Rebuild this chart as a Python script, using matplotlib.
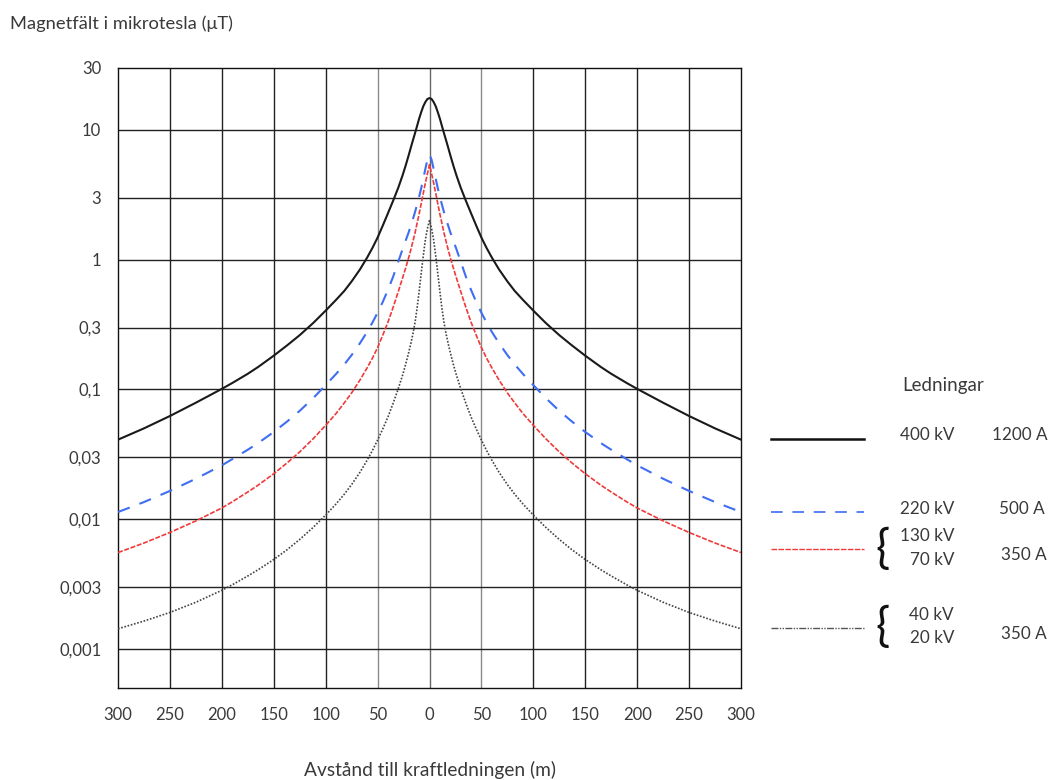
import numpy as np
import matplotlib.pyplot as plt
from matplotlib.lines import Line2D

plt.rcParams['font.family'] = ['Lato', 'DejaVu Sans']

# distance from the line (m), the curves are symmetric around 0
dist = [0, 2, 4, 6, 8, 10, 12, 14, 16, 18, 20, 23, 26, 30, 35, 40, 45, 50, 55, 60, 67, 75, 82,
        90, 100, 112, 125, 137, 150, 165, 175, 190, 200, 225, 250, 275, 300]

# magnetic field in microtesla
b_400 = [17.6, 17.3, 16.4, 15.2, 13.7, 12.2, 10.7, 9.4, 8.3, 7.3, 6.4, 5.3, 4.45, 3.6, 2.85, 2.28,
         1.83, 1.48, 1.23, 1.04, 0.84, 0.68, 0.575, 0.49, 0.405, 0.325, 0.262, 0.219, 0.182,
         0.149, 0.132, 0.112, 0.101, 0.079, 0.0624, 0.0501, 0.041]
b_220 = [6.45, 5.9, 5.0, 4.2, 3.55, 3.05, 2.65, 2.32, 2.05, 1.83, 1.63, 1.4, 1.2, 0.97, 0.74,
         0.585, 0.473, 0.39, 0.327, 0.278, 0.227, 0.184, 0.156, 0.1315, 0.108, 0.0857, 0.0684,
         0.0567, 0.047, 0.0386, 0.0343, 0.029, 0.026, 0.0205, 0.0165, 0.01355, 0.01135]
b_130 = [5.4, 4.6, 3.9, 3.25, 2.7, 2.25, 1.9, 1.6, 1.38, 1.19, 1.04, 0.86, 0.72, 0.57, 0.43, 0.33,
         0.262, 0.21, 0.174, 0.147, 0.118, 0.094, 0.0789, 0.0652, 0.0529, 0.0417, 0.033, 0.0272,
         0.0224, 0.0183, 0.0162, 0.0136, 0.0122, 0.0097, 0.0079, 0.00655, 0.00553]
b_40 = [2.0, 1.74, 1.42, 1.07, 0.785, 0.569, 0.42, 0.326, 0.267, 0.2254, 0.1928, 0.1556, 0.1282,
        0.1019, 0.0782, 0.0614, 0.0496, 0.0407, 0.0338, 0.02854, 0.02296, 0.01848, 0.0156,
        0.0131, 0.01076, 0.00865, 0.00698, 0.00583, 0.00489, 0.00408, 0.00365, 0.00312,
        0.00283, 0.00229, 0.00191, 0.00164, 0.00143]

y_ticks = [30, 10, 3, 1, 0.3, 0.1, 0.03, 0.01, 0.003, 0.001]
y_labels = ['30', '10', '3', '1', '0,3', '0,1', '0,03', '0,01', '0,003', '0,001']
x_ticks = [-300, -250, -200, -150, -100, -50, 0, 50, 100, 150, 200, 250, 300]


def mirror(d, v):
    d = np.array(d, dtype=float)
    v = np.array(v, dtype=float)
    return np.concatenate([-d[::-1], d[1:]]), np.concatenate([v[::-1], v[1:]])


txt = '#3a3a3a'
fig = plt.figure(figsize=(10.52, 7.8), dpi=100)
ax = fig.add_axes([118/1052, 1 - 688/780, (741 - 118)/1052, (688 - 68)/780])

ax.set_yscale('log')
ax.set_xlim(-300, 300)
ax.set_ylim(0.0005, 30)

# grid
for xv in x_ticks[1:-1]:
    c = '#8a8a8a' if abs(xv) == 50 else ('#666666' if xv == 0 else '#222222')
    ax.axvline(xv, color=c, lw=1.0, zorder=1)
for yv in y_ticks[1:]:
    ax.axhline(yv, color='#222222', lw=1.0, zorder=1)

x, y = mirror(dist, b_400)
ax.plot(x, y, color='#1a1a1a', lw=1.5, zorder=3)
x, y = mirror(dist, b_220)
ax.plot(x, y, color='#3f6ef2', lw=1.5, ls=(0, (6, 5)), zorder=3)
x, y = mirror(dist, b_130)
ax.plot(x, y, color='#f03a3a', lw=1.2, ls=(0, (3, 1)), zorder=3)
x, y = mirror(dist, b_40)
ax.plot(x, y, color='#444444', lw=1.2, ls=(0, (1, 1)), zorder=3)

ax.minorticks_off()
ax.set_yticks(y_ticks)
ax.set_yticklabels(y_labels)
ax.set_xticks(x_ticks)
ax.set_xticklabels([str(abs(v)) for v in x_ticks])
ax.tick_params(axis='both', length=0, labelsize=12, colors=txt)
ax.tick_params(axis='y', pad=12)
ax.tick_params(axis='x', pad=14)
for s in ax.spines.values():
    s.set_color('#111111')
    s.set_linewidth(1.0)

fig.text(10/1052, 1 - 24/780, 'Magnetfält i mikrotesla (μT)', fontsize=13.2, color=txt,
         ha='left', va='center')
fig.text(430/1052, 1 - 770/780, 'Avstånd till kraftledningen (m)', fontsize=13.8, color=txt,
         ha='center', va='center')

# hand made legend on the right
def fx(px):
    return px / 1052

def fy(py):
    return 1 - py / 780

fig.text(fx(943), fy(385), 'Ledningar', fontsize=13.5, color=txt, ha='center', va='center')

fig.add_artist(Line2D([fx(771), fx(864)], [fy(439), fy(439)], color='#111111', lw=1.8))
fig.add_artist(Line2D([fx(771), fx(864)], [fy(512), fy(512)], color='#5b7ff5', lw=1.4,
                      ls=(0, (6, 5))))
fig.add_artist(Line2D([fx(771), fx(864)], [fy(549), fy(549)], color='#f03a3a', lw=1.0,
                      ls=(0, (4, 1))))
fig.add_artist(Line2D([fx(771), fx(864)], [fy(628), fy(628)], color='#555555', lw=1.0,
                      ls=(0, (5, 1, 1, 1, 1, 1))))

fs = 12.3
fig.text(fx(954), fy(435), '400 kV', fontsize=fs, color=txt, ha='right', va='center')
fig.text(fx(1048), fy(435), '1200 A', fontsize=fs, color=txt, ha='right', va='center')
fig.text(fx(954), fy(509), '220 kV', fontsize=fs, color=txt, ha='right', va='center')
fig.text(fx(1045), fy(509), '500 A', fontsize=fs, color=txt, ha='right', va='center')
fig.text(fx(954), fy(536), '130 kV', fontsize=fs, color=txt, ha='right', va='center')
fig.text(fx(954), fy(560), '70 kV', fontsize=fs, color=txt, ha='right', va='center')
fig.text(fx(1047), fy(555), '350 A', fontsize=fs, color=txt, ha='right', va='center')
fig.text(fx(954), fy(615), '40 kV', fontsize=fs, color=txt, ha='right', va='center')
fig.text(fx(954), fy(638), '20 kV', fontsize=fs, color=txt, ha='right', va='center')
fig.text(fx(1047), fy(634), '350 A', fontsize=fs, color=txt, ha='right', va='center')
fig.text(fx(882), fy(549), '{', fontsize=34, color='#111111', ha='center', va='center',
         family='Lato')
fig.text(fx(882), fy(627), '{', fontsize=34, color='#111111', ha='center', va='center',
         family='Lato')

fig.savefig('out.png', dpi=100, facecolor='white')
